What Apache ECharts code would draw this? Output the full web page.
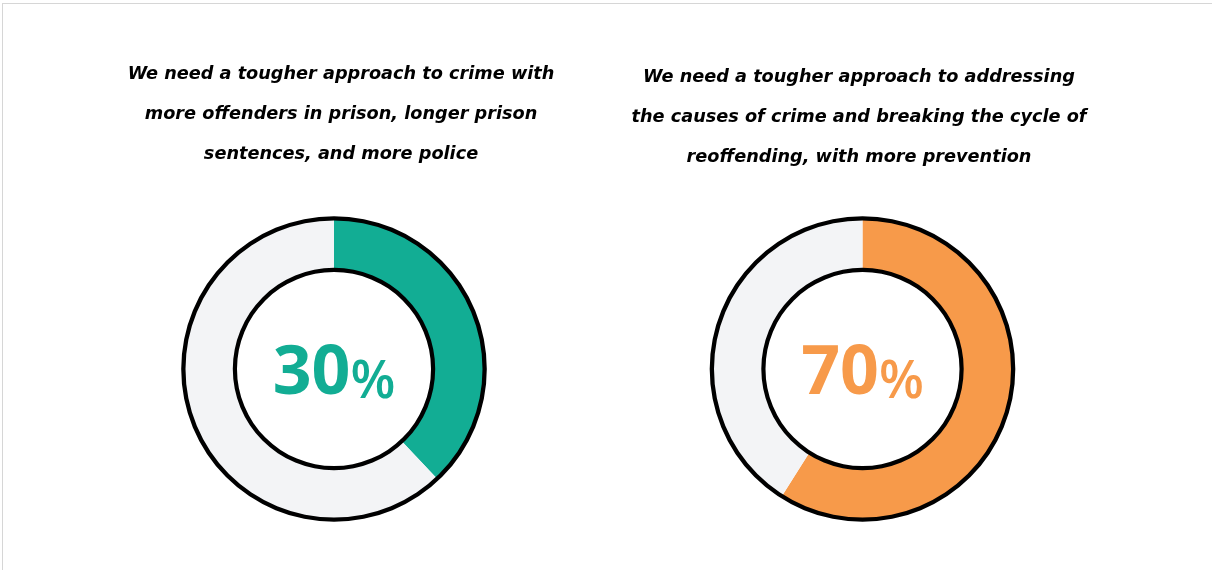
<!DOCTYPE html>
<html>
<head>
<meta charset="utf-8">
<script src="https://cdn.jsdelivr.net/npm/echarts@6/dist/echarts.min.js"></script>
<style>
  html, body { margin: 0; padding: 0; background: #fff; overflow: hidden; }
  #frame { position: absolute; left: 2px; top: 3px; width: 1400px; height: 800px; border: 1px solid #d6d6d6; box-sizing: border-box; }
  #chart { position: absolute; left: 0; top: 0; width: 1212px; height: 570px; }
</style>
</head>
<body>
<div id="frame"></div>
<div id="chart"></div>
<script>
// ---- data ----
const questions = [
  "We need a tougher approach to crime with\nmore offenders in prison, longer prison\nsentences, and more police",
  "We need a tougher approach to addressing\nthe causes of crime and breaking the cycle of\nreoffending, with more prevention"
];
const shownLabels = ["30", "70"];          // printed percentages
const arcValues = [38, 59];                 // share drawn by the coloured arc
const restValues = [62, 41];                // remaining grey part
const arcColors = ["#12AD94", "#F79A4A"];
const greyColor = "#F3F4F6";

// ---- layout ----
const centers = [[334, 369], [862.5, 369]];
const titleX = [341, 859];
const titleY = [54, 57];

const series = [];
const graphics = [];
for (let i = 0; i < 2; i++) {
  series.push({
    type: 'pie',
    center: centers[i],
    radius: [99, 150],
    startAngle: 90,
    clockwise: true,
    silent: true,
    animation: false,
    labelLine: { show: false },
    data: [
      {
        value: arcValues[i],
        itemStyle: { color: arcColors[i] },
        label: {
          show: true,
          position: 'center',
          formatter: '{n|' + shownLabels[i] + '}{p|%}',
          rich: {
            n: { fontFamily: 'Open Sans', fontWeight: 'bold', fontSize: 68, color: arcColors[i], lineHeight: 80, verticalAlign: 'bottom' },
            p: { fontFamily: 'Open Sans', fontWeight: 600, fontSize: 52, color: arcColors[i], lineHeight: 80, verticalAlign: 'bottom' }
          }
        }
      },
      { value: restValues[i], itemStyle: { color: greyColor }, label: { show: false } }
    ]
  });
  // outlines
  series.push({
    type: 'pie', center: centers[i], radius: [148.5, 152.8], silent: true, animation: false,
    label: { show: false }, labelLine: { show: false },
    data: [{ value: 1, itemStyle: { color: '#000' } }]
  });
  series.push({
    type: 'pie', center: centers[i], radius: [97, 101.2], silent: true, animation: false,
    label: { show: false }, labelLine: { show: false },
    data: [{ value: 1, itemStyle: { color: '#000' } }]
  });
  graphics.push({
    type: 'text',
    x: titleX[i], y: titleY[i],
    style: {
      text: questions[i],
      align: 'center',
      verticalAlign: 'top',
      fontFamily: 'DejaVu Sans',
      fontWeight: 'bold',
      fontStyle: 'italic',
      fontSize: 17.7,
      lineHeight: 40,
      fill: '#000'
    }
  });
}

const chart = echarts.init(document.getElementById('chart'), null, { renderer: 'canvas' });
chart.setOption({
  backgroundColor: 'transparent',
  animation: false,
  series: series,
  graphic: graphics
});
</script>
</body>
</html>
